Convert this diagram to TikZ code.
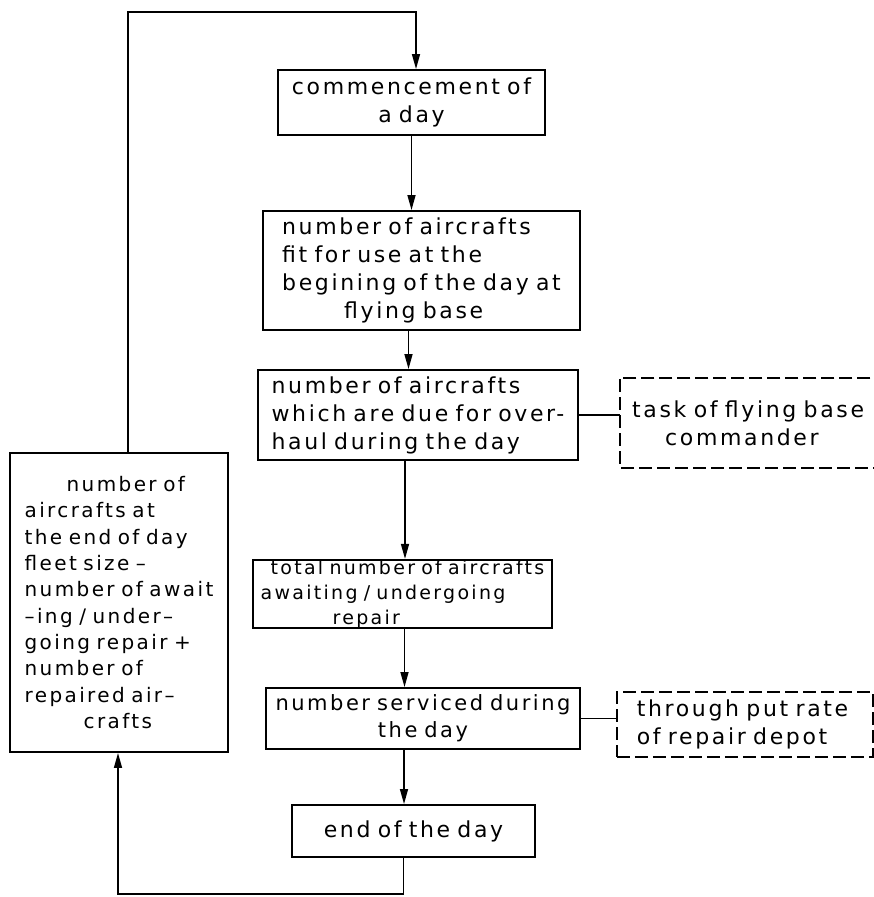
\documentclass[tikz,border=0pt]{standalone}
\usepackage{fontspec}
\setmainfont[LetterSpace=12,WordSpace=0.75]{DejaVu Sans}
\usetikzlibrary{arrows.meta}

\begin{document}
\begin{tikzpicture}[
    x=1pt, y=-1pt,
    >={Triangle[length=15pt,width=8pt]},
    every node/.style={font=\fontsize{22}{28}\selectfont},
    stepbox/.style={
        draw, line width=1.9pt,
        inner sep=0pt, align=left
    },
    taskbox/.style={
        inner ysep=0pt, align=left, anchor=west
    },
    dashedge/.style={
        line width=1.6pt,
        dash pattern=on 13pt off 5pt
    },
    flow/.style={line width=1.5pt}
]
\useasboundingbox (0,0) rectangle (874,897);

% main column
\node[stepbox, align=center, minimum width=267pt, minimum height=65pt]
    (start) at (411.5,102.5) {commencement of\\a day};
\node[stepbox, minimum width=317pt, minimum height=119pt]
    (fit) at (421.5,270.5) {number of aircrafts\\fit for use at the\\begining of the day at\\\hspace*{62pt}flying base};
\node[stepbox, minimum width=320pt, minimum height=90pt]
    (due) at (418,415) {number of aircrafts\\which are due for over-\\haul during the day};
\node[stepbox, minimum width=299pt, minimum height=68pt,
      font=\fontsize{19}{25}\selectfont]
    (total) at (402.5,594) {\hspace*{10pt}total number of aircrafts\\awaiting / undergoing\\\hspace*{72pt}repair};
\node[stepbox, align=center, minimum width=314pt, minimum height=61pt,
      font=\fontsize{21}{27}\selectfont]
    (serv) at (423,718.5) {number serviced during\\the day};
\node[stepbox, align=center, minimum width=243pt, minimum height=52pt]
    (endday) at (413.5,831) {end of the day};

% side boxes (task box runs off the right edge)
\node[taskbox, inner xsep=12pt, text width=280pt, minimum height=90pt]
    (task) at (620,423) {task of flying base\\\hspace*{33pt}commander};
\draw[dashedge] (task.north east) -- (task.north west)
    -- (task.south west) -- (task.south east);
\node[taskbox, draw, dashedge, inner xsep=20pt, text width=216pt, minimum height=65pt]
    (rate) at (616,724.5) {through put rate\\of repair depot};

% feedback box
\node[stepbox, minimum width=218pt, minimum height=299pt,
      font=\fontsize{20}{26.3}\selectfont]
    (fleet) at (119,602.5) {\hspace*{42pt}number of\\aircrafts at\\the end of day\\fleet size --\\number of await\\--ing / under--\\going repair +\\number of\\repaired air--\\\hspace*{59pt}crafts};

% connectors
\coordinate (loop) at (416,12);
\coordinate (back) at (118,894);

\draw[flow, ->] (start.south) -- (start.south |- fit.north);
\draw[flow, ->] ([xshift=-13pt]fit.south) -- ([xshift=-13pt]fit.south |- due.north);
\draw[flow, ->] ([xshift=-13pt]due.south) -- ([xshift=-13pt]due.south |- total.north);
\draw[flow, ->] ([xshift=2pt]total.south) -- ([xshift=2pt]total.south |- serv.north);
\draw[flow, ->] ([xshift=-19pt]serv.south) -- ([xshift=-19pt]serv.south |- endday.north);
\draw[flow] (due.east) -- (due.east -| task.west);
\draw[flow] (serv.east) -- (serv.east -| rate.west);
\draw[flow, ->] ([xshift=-10pt]endday.south) |- (back) -- (back |- fleet.south);
\draw[flow, ->] ([xshift=9pt]fleet.north) |- (loop) -- (loop |- start.north);

\end{tikzpicture}
\end{document}
